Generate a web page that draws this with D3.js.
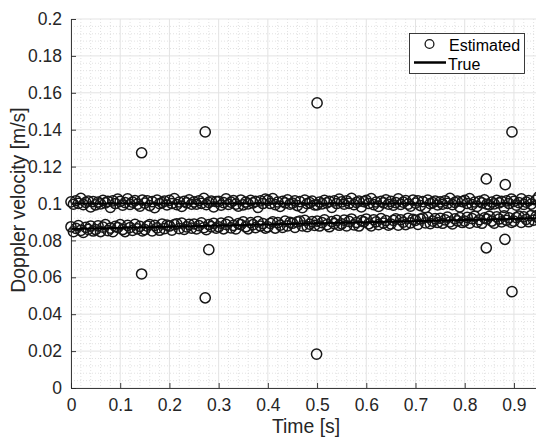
<!DOCTYPE html>
<html>
<head>
<meta charset="utf-8">
<script src="https://cdn.jsdelivr.net/npm/d3@7"></script>
<style>
  html, body { margin: 0; padding: 0; background: #fff; }
  svg { display: block; font-family: "Liberation Sans", Arial, Helvetica, sans-serif; }
</style>
</head>
<body>
<svg id="chart" width="536" height="439"></svg>
<script>
// ---------------- data ----------------
const xTicks = [0, 0.1, 0.2, 0.3, 0.4, 0.5, 0.6, 0.7, 0.8, 0.9];
const yTicks = [0, 0.02, 0.04, 0.06, 0.08, 0.1, 0.12, 0.14, 0.16, 0.18, 0.2];
const xTickLabels = ["0", "0.1", "0.2", "0.3", "0.4", "0.5", "0.6", "0.7", "0.8", "0.9"];
const yTickLabels = ["0", "0.02", "0.04", "0.06", "0.08", "0.1", "0.12", "0.14", "0.16", "0.18", "0.2"];

const sampleStart = 0;      // s
const sampleStep = 0.005;   // s (frame interval)

// Estimated Doppler velocity, target 1 (upper track), one value per frame
const estUpper = [
  0.1009,0.0996,0.1015,0.1001,0.1028,0.0994,0.1006,0.1013,0.0982,0.1010,
  0.0993,0.1008,0.0998,0.1017,0.1003,0.1012,0.0979,0.1014,0.1000,0.1024,
  0.1011,0.0991,0.1005,0.1025,0.0995,0.1007,0.1016,0.0997,0.0986,0.1019,
  0.1002,0.1014,0.0989,0.1010,0.0978,0.1018,0.0999,0.1005,0.1013,0.0992,
  0.1017,0.1000,0.1027,0.0994,0.1008,0.0984,0.1012,0.1003,0.1020,0.0996,
  0.1009,0.0996,0.1015,0.1001,0.1028,0.0994,0.1006,0.1013,0.0982,0.1010,
  0.1011,0.0991,0.1005,0.1025,0.0995,0.1007,0.1016,0.0997,0.0986,0.1019,
  0.0993,0.1008,0.0998,0.1017,0.1003,0.1012,0.0979,0.1014,0.1000,0.1024,
  0.1017,0.1000,0.1027,0.0994,0.1008,0.0984,0.1012,0.1003,0.1020,0.0996,
  0.1002,0.1014,0.0989,0.1010,0.0978,0.1018,0.0999,0.1005,0.1013,0.0992,
  0.0993,0.1008,0.0998,0.1017,0.1003,0.1012,0.0979,0.1014,0.1000,0.1024,
  0.1009,0.0996,0.1015,0.1001,0.1028,0.0994,0.1006,0.1013,0.0982,0.1010,
  0.1017,0.1000,0.1027,0.0994,0.1008,0.0984,0.1012,0.1003,0.1020,0.0996,
  0.1011,0.0991,0.1005,0.1025,0.0995,0.1007,0.1016,0.0997,0.0986,0.1019,
  0.1002,0.1014,0.0989,0.1010,0.0978,0.1018,0.0999,0.1005,0.1013,0.0992,
  0.1009,0.0996,0.1015,0.1001,0.1028,0.0994,0.1006,0.1013,0.0982,0.1010,
  0.1017,0.1000,0.1027,0.0994,0.1008,0.0984,0.1012,0.1003,0.1020,0.0996,
  0.0993,0.1008,0.0998,0.1017,0.1003,0.1012,0.0979,0.1014,0.1000,0.1024,
  0.1011,0.0991,0.1005,0.1025,0.0995,0.1007,0.1016,0.0997,0.0986,0.1019,
  0.1035,0.1010
];

// Estimated Doppler velocity, target 2 (lower, slowly increasing track)
const estLower = [
  0.0874,0.0847,0.0865,0.0880,0.0854,0.0843,0.0871,0.0860,0.0878,0.0851,
  0.0859,0.0879,0.0848,0.0872,0.0885,0.0853,0.0866,0.0847,0.0876,0.0870,
  0.0885,0.0859,0.0848,0.0881,0.0870,0.0854,0.0887,0.0863,0.0876,0.0852,
  0.0858,0.0877,0.0886,0.0852,0.0881,0.0868,0.0855,0.0889,0.0864,0.0883,
  0.0878,0.0856,0.0885,0.0890,0.0864,0.0894,0.0860,0.0873,0.0887,0.0866,
  0.0889,0.0862,0.0880,0.0895,0.0869,0.0858,0.0886,0.0875,0.0893,0.0866,
  0.0874,0.0894,0.0863,0.0887,0.0900,0.0868,0.0881,0.0862,0.0891,0.0885,
  0.0900,0.0874,0.0863,0.0896,0.0885,0.0869,0.0902,0.0878,0.0891,0.0867,
  0.0873,0.0892,0.0901,0.0867,0.0896,0.0883,0.0870,0.0904,0.0879,0.0898,
  0.0893,0.0871,0.0900,0.0905,0.0879,0.0909,0.0875,0.0888,0.0902,0.0881,
  0.0905,0.0878,0.0896,0.0911,0.0885,0.0874,0.0902,0.0891,0.0909,0.0882,
  0.0890,0.0910,0.0879,0.0903,0.0916,0.0884,0.0897,0.0878,0.0907,0.0901,
  0.0916,0.0890,0.0879,0.0912,0.0901,0.0885,0.0918,0.0894,0.0907,0.0883,
  0.0889,0.0908,0.0917,0.0883,0.0912,0.0899,0.0886,0.0920,0.0895,0.0914,
  0.0909,0.0887,0.0916,0.0921,0.0895,0.0925,0.0891,0.0904,0.0918,0.0897,
  0.0920,0.0893,0.0911,0.0926,0.0900,0.0889,0.0917,0.0906,0.0924,0.0897,
  0.0905,0.0925,0.0894,0.0918,0.0931,0.0899,0.0912,0.0893,0.0922,0.0916,
  0.0931,0.0905,0.0894,0.0927,0.0916,0.0900,0.0933,0.0909,0.0922,0.0898,
  0.0904,0.0923,0.0932,0.0898,0.0927,0.0914,0.0901,0.0935,0.0910,0.0929,
  0.0924,0.0902
];

// Spurious estimates (ghost detections)
const outlierTime = [0.1435, 0.1435, 0.2727, 0.2727, 0.2800, 0.5000, 0.4990, 0.8438, 0.8438, 0.8817, 0.8824, 0.8960, 0.8960];
const outlierVel  = [0.1275, 0.0618, 0.1388, 0.0489, 0.0750, 0.1545, 0.0184, 0.1133, 0.0760, 0.0806, 0.1102, 0.1388, 0.0522];

// True velocities (straight lines)
const trueTime  = [0, 0.955];
const trueUpper = [0.1000, 0.1000];
const trueLower = [0.0862, 0.0920];

// ---------------- layout ----------------
const svg = d3.select("#chart");
const L = 71, T = 19, B = 388, R = 541;
const x = d3.scaleLinear().domain([0, 0.955]).range([L, R]);
const y = d3.scaleLinear().domain([0, 0.2]).range([B, T]);

const axisColor = "#262626";
const gridColor = "#e3e3e3";
const markerR = 5.1, markerW = 1.5, markerColor = "#161616";

// minor grid
const xMinor = d3.range(0, 0.96, 0.02).filter(v => Math.abs(v * 10 - Math.round(v * 10)) > 1e-6);
const yMinor = d3.range(0, 0.2001, 0.004).filter(v => Math.abs(v * 50 - Math.round(v * 50)) > 1e-6);
const gMinor = svg.append("g");
gMinor.selectAll("line.xm").data(xMinor).join("line")
  .attr("x1", d => x(d)).attr("x2", d => x(d)).attr("y1", T).attr("y2", B)
  .attr("stroke", "#d6d6d6").attr("stroke-width", 0.7).attr("stroke-dasharray", "1,2");
gMinor.selectAll("line.ym").data(yMinor).join("line")
  .attr("x1", L).attr("x2", R).attr("y1", d => y(d)).attr("y2", d => y(d))
  .attr("stroke", "#d6d6d6").attr("stroke-width", 0.7).attr("stroke-dasharray", "1,2");

// major grid
const gMajor = svg.append("g");
gMajor.selectAll("line.xg").data(xTicks).join("line")
  .attr("x1", d => x(d)).attr("x2", d => x(d)).attr("y1", T).attr("y2", B)
  .attr("stroke", gridColor).attr("stroke-width", 1);
gMajor.selectAll("line.yg").data(yTicks).join("line")
  .attr("x1", L).attr("x2", R).attr("y1", d => y(d)).attr("y2", d => y(d))
  .attr("stroke", gridColor).attr("stroke-width", 1);

// estimated points
const pts = [];
estUpper.forEach((v, i) => pts.push([sampleStart + i * sampleStep, v]));
estLower.forEach((v, i) => pts.push([sampleStart + i * sampleStep, v]));
outlierTime.forEach((t, i) => pts.push([t, outlierVel[i]]));

svg.append("g").selectAll("circle").data(pts).join("circle")
  .attr("cx", d => x(d[0])).attr("cy", d => y(d[1])).attr("r", markerR)
  .attr("fill", "none").attr("stroke", markerColor).attr("stroke-width", markerW);

// true lines
const line = d3.line().x(d => x(d[0])).y(d => y(d[1]));
[trueUpper, trueLower].forEach(arr => {
  svg.append("path").datum(trueTime.map((t, i) => [t, arr[i]]))
    .attr("d", line).attr("fill", "none").attr("stroke", "#000").attr("stroke-width", 2);
});

// axes
const xAxis = d3.axisBottom(x).tickValues(xTicks).tickFormat((d, i) => xTickLabels[i])
  .tickSizeInner(-5).tickSizeOuter(0).tickPadding(12);
const gx = svg.append("g").attr("transform", `translate(0,${B})`).call(xAxis);
const yAxis = d3.axisLeft(y).tickValues(yTicks).tickFormat((d, i) => yTickLabels[i])
  .tickSizeInner(-5).tickSizeOuter(0).tickPadding(9);
const gy = svg.append("g").attr("transform", `translate(${L},0)`).call(yAxis);
[gx, gy].forEach(g => {
  g.select(".domain").attr("stroke", axisColor).attr("stroke-width", 0.9);
  g.selectAll(".tick line").attr("stroke", axisColor).attr("stroke-width", 0.9);
  g.selectAll(".tick text").attr("fill", axisColor).attr("font-size", 17.5)
    .attr("font-family", "Liberation Sans, Arial, sans-serif");
});
gx.selectAll(".tick text").attr("dy", "0.71em").attr("y", 11);

// axis labels
svg.append("text").attr("x", 306).attr("y", 433).attr("text-anchor", "middle")
  .attr("font-size", 19.4).attr("fill", axisColor).text("Time [s]");
svg.append("text").attr("transform", "translate(25,200) rotate(-90)").attr("text-anchor", "middle")
  .attr("font-size", 19.4).attr("fill", axisColor).text("Doppler velocity [m/s]");

// legend
const lg = svg.append("g");
lg.append("rect").attr("x", 409.5).attr("y", 33.5).attr("width", 115).attr("height", 40)
  .attr("fill", "#fff").attr("stroke", axisColor).attr("stroke-width", 0.9);
lg.append("circle").attr("cx", 429.5).attr("cy", 44).attr("r", 4.4)
  .attr("fill", "none").attr("stroke", markerColor).attr("stroke-width", 1.3);
lg.append("text").attr("x", 449).attr("y", 50.5).attr("font-size", 16).attr("fill", "#000").text("Estimated");
lg.append("line").attr("x1", 414).attr("x2", 446).attr("y1", 62.5).attr("y2", 62.5)
  .attr("stroke", "#000").attr("stroke-width", 2.5);
lg.append("text").attr("x", 448).attr("y", 69.5).attr("font-size", 16).attr("fill", "#000").text("True");
</script>
</body>
</html>
